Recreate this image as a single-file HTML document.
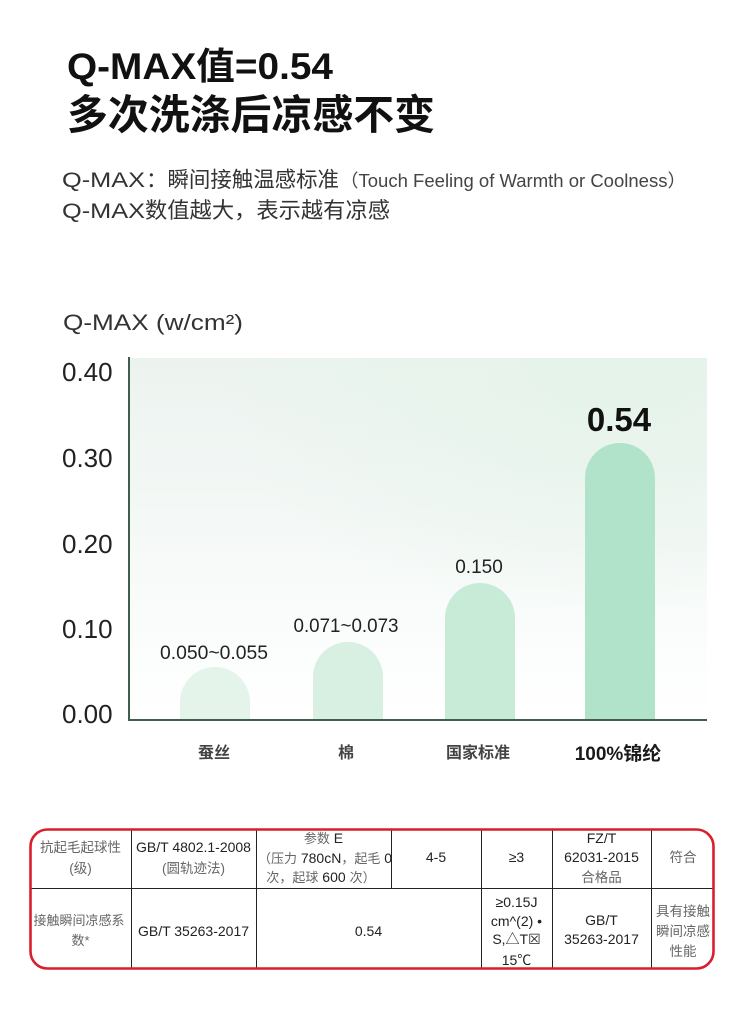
<!DOCTYPE html>
<html>
<head>
<meta charset="utf-8">
<style>
  html, body { margin:0; padding:0; background:#ffffff; }
  body { width:750px; height:1020px; overflow:hidden; }
  svg { display:block; }
  .lat { font-family:"Liberation Sans", "Noto Sans CJK SC", sans-serif; }
  .cjk { font-family:"Liberation Sans", "Noto Sans CJK SC", sans-serif; }
</style>
</head>
<body>
<svg width="750" height="1020" viewBox="0 0 750 1020" xmlns="http://www.w3.org/2000/svg">
  <defs>
    <linearGradient id="panel" x1="0" y1="0" x2="0" y2="1">
      <stop offset="0" stop-color="#ecf3ef"/>
      <stop offset="0.45" stop-color="#f4f8f6"/>
      <stop offset="0.78" stop-color="#fbfdfc"/>
      <stop offset="1" stop-color="#ffffff"/>
    </linearGradient>
    <radialGradient id="tint" cx="0.85" cy="0.05" r="0.7">
      <stop offset="0" stop-color="#e4f3e9" stop-opacity="0.9"/>
      <stop offset="1" stop-color="#e4f3e9" stop-opacity="0"/>
    </radialGradient>
  </defs>

  <!-- Title -->
  <text class="lat" x="67" y="79" font-size="37" font-weight="bold" fill="#111" textLength="266" lengthAdjust="spacingAndGlyphs">Q-MAX值=0.54</text>
  <text class="cjk" x="67" y="129" font-size="41" font-weight="bold" fill="#111" textLength="368" lengthAdjust="spacingAndGlyphs">多次洗涤后凉感不变</text>

  <!-- Subtitle -->
  <text class="lat" x="62" y="187" font-size="21" fill="#333" textLength="83" lengthAdjust="spacingAndGlyphs">Q-MAX</text>
  <text class="cjk" x="146" y="187" font-size="21.5" fill="#333" textLength="193" lengthAdjust="spacingAndGlyphs">：瞬间接触温感标准</text>
  <text class="lat" x="340" y="187" font-size="18" fill="#444" textLength="346" lengthAdjust="spacingAndGlyphs">（Touch Feeling of Warmth or Coolness）</text>

  <text class="lat" x="62" y="218" font-size="21" fill="#333" textLength="83" lengthAdjust="spacingAndGlyphs">Q-MAX</text>
  <text class="cjk" x="145" y="218" font-size="22" fill="#333" textLength="245" lengthAdjust="spacingAndGlyphs">数值越大，表示越有凉感</text>

  <!-- Chart title -->
  <text class="lat" x="63" y="330" font-size="22" fill="#333" textLength="180" lengthAdjust="spacingAndGlyphs">Q-MAX (w/cm²)</text>

  <!-- Panel -->
  <rect x="130" y="358" width="577" height="362" fill="url(#panel)"/>
  <rect x="130" y="358" width="577" height="362" fill="url(#tint)"/>

  <!-- Y tick labels -->
  <g class="lat" font-size="26" fill="#222">
    <text x="62" y="381">0.40</text>
    <text x="62" y="467">0.30</text>
    <text x="62" y="553">0.20</text>
    <text x="62" y="638">0.10</text>
    <text x="62" y="723">0.00</text>
  </g>

  <!-- Bars -->
  <path d="M180,720 V702 A35,35 0 0 1 250,702 V720 Z" fill="#e4f4ea"/>
  <path d="M313,720 V677 A35,35 0 0 1 383,677 V720 Z" fill="#d7f0e2"/>
  <path d="M445,720 V618 A35,35 0 0 1 515,618 V720 Z" fill="#c8ebd8"/>
  <path d="M585,720 V478 A35,35 0 0 1 655,478 V720 Z" fill="#b0e3c9"/>

  <!-- Axes -->
  <line x1="129" y1="357" x2="129" y2="721" stroke="#3f5e4b" stroke-width="2"/>
  <line x1="128" y1="720" x2="707" y2="720" stroke="#3f5e4b" stroke-width="2"/>

  <!-- Value labels -->
  <g class="lat" font-size="19" fill="#222" text-anchor="middle">
    <text x="214" y="659" textLength="108" lengthAdjust="spacingAndGlyphs">0.050~0.055</text>
    <text x="346" y="632" textLength="105" lengthAdjust="spacingAndGlyphs">0.071~0.073</text>
    <text x="479" y="573">0.150</text>
  </g>
  <text class="lat" x="619" y="431" font-size="33" font-weight="bold" fill="#111" text-anchor="middle">0.54</text>

  <!-- X labels -->
  <g class="cjk" font-size="16" font-weight="bold" fill="#444" text-anchor="middle">
    <text x="214" y="758">蚕丝</text>
    <text x="346" y="758">棉</text>
    <text x="478" y="758">国家标准</text>
  </g>
  <text class="lat" x="618" y="760" font-size="19" font-weight="bold" fill="#1a1a1a" text-anchor="middle">100%锦纶</text>

  <!-- Table -->
  <g stroke="#222" stroke-width="1">
    <line x1="30" y1="888.5" x2="714" y2="888.5"/>
    <line x1="131.5" y1="829" x2="131.5" y2="969"/>
    <line x1="256.5" y1="829" x2="256.5" y2="969"/>
    <line x1="391.5" y1="829" x2="391.5" y2="888"/>
    <line x1="481.5" y1="829" x2="481.5" y2="969"/>
    <line x1="552.5" y1="829" x2="552.5" y2="969"/>
    <line x1="651.5" y1="829" x2="651.5" y2="969"/>
  </g>
  <rect x="30.5" y="829.5" width="683" height="139" rx="17" ry="17" fill="none" stroke="#d91f2e" stroke-width="2.6"/>

  <g class="lat" font-size="14" fill="#222" text-anchor="middle">
    <!-- top row -->
    <text x="80.5" y="852" fill="#666" font-size="13.5">抗起毛起球性</text>
    <text x="80.5" y="873" fill="#666" font-size="13.5">(级)</text>

    <text x="193.5" y="852">GB/T 4802.1-2008</text>
    <text x="193.5" y="873" fill="#666" font-size="13.5">(圆轨迹法)</text>

    <text x="323.5" y="843"><tspan fill="#666" font-size="13">参数</tspan> E</text>
    <text x="325" y="863"><tspan fill="#666" font-size="13">（压力</tspan> 780cN<tspan fill="#666" font-size="13">，起毛</tspan> 0</text>
    <text x="321" y="882"><tspan fill="#666" font-size="13">次，起球</tspan> 600 <tspan fill="#666" font-size="13">次）</tspan></text>

    <text x="436" y="862">4-5</text>
    <text x="516.5" y="862">≥3</text>

    <text x="601.5" y="843">FZ/T</text>
    <text x="601.5" y="862">62031-2015</text>
    <text x="601.5" y="882" fill="#666" font-size="13.5">合格品</text>

    <text x="683" y="862" fill="#666" font-size="13.5">符合</text>

    <!-- bottom row -->
    <text x="79" y="925" fill="#666" font-size="13">接触瞬间凉感系</text>
    <text x="80.5" y="945" fill="#666" font-size="13">数*</text>

    <text x="193.5" y="936">GB/T 35263-2017</text>

    <text x="368.5" y="936">0.54</text>

    <text x="516.5" y="907">≥0.15J</text>
    <text x="516.5" y="926">cm^(2) •</text>
    <text x="516.5" y="944">S,△T☒</text>
    <text x="516.5" y="965">15℃</text>

    <text x="601.5" y="925">GB/T</text>
    <text x="601.5" y="944">35263-2017</text>

    <text x="683" y="916" fill="#666" font-size="13.5">具有接触</text>
    <text x="683" y="936" fill="#666" font-size="13.5">瞬间凉感</text>
    <text x="683" y="956" fill="#666" font-size="13.5">性能</text>
  </g>
</svg>
</body>
</html>
